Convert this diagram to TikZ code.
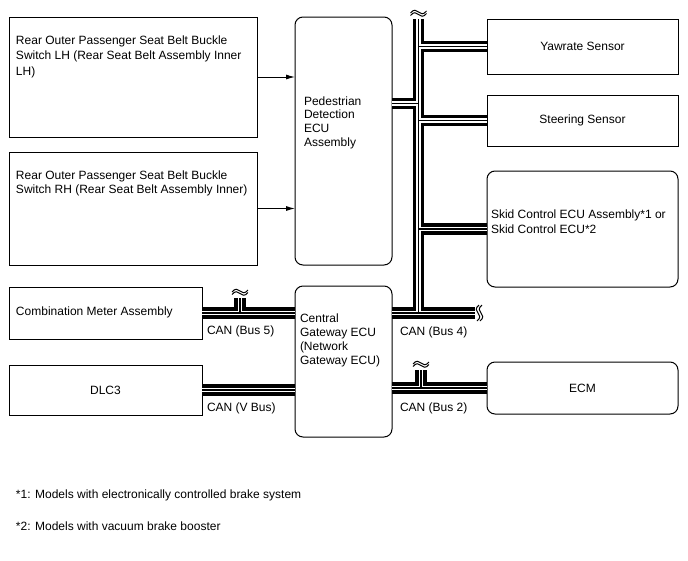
\documentclass[tikz,border=0pt]{standalone}
\usepackage{fontspec}
\setmainfont{Liberation Sans}
\usetikzlibrary{arrows.meta}

\tikzset{
  unit/.style={draw, line width=1pt, inner sep=0pt, outer sep=0pt, font=\fontsize{12}{14}\selectfont},
  ecu/.style={unit, rounded corners=8pt},
  txt/.style={inner sep=0pt, outer sep=0pt, anchor=north west, align=left, font=\fontsize{12}{14}\selectfont},
  lbl/.style={inner sep=0pt, outer sep=0pt, anchor=base west, font=\fontsize{12}{14}\selectfont},
  sig/.style={-{Latex[length=9pt,width=5pt]}, line width=1pt},
  brk/.style={line width=1pt},
  tildeh/.pic={
    \draw[brk] (-8,1) .. controls (-5,-3) and (-2,-2) .. (0,0) .. controls (2,2) and (5,3) .. (8,-1);
    \draw[brk] (-8,3.5) .. controls (-5,-0.5) and (-2,0.5) .. (0,2.5) .. controls (2,4.5) and (5,5.5) .. (8,1.5);
  },
  tildev/.pic={
    \draw[brk] (1,-8) .. controls (-3,-5) and (-2,-2) .. (0,0) .. controls (2,2) and (3,5) .. (-1,8);
    \draw[brk] (4,-8) .. controls (0,-5) and (1,-2) .. (3,0) .. controls (5,2) and (6,5) .. (2,8);
  }
}

% CAN bus segments, drawn in three passes
\newcommand{\canpath}{
  (trunktop) -- (trunkbot)
  (pedtap) -- (pedtap -| trunktop)
  (trunktop |- yaw.west) -- (yaw.west)
  (trunktop |- steer.west) -- (steer.west)
  (trunktop |- skid.west) -- (skid.west)
  (gw.east |- trunkbot) -- (b4end)
  (gw.east |- ecm.west) -- (ecm.west)
  (b2top) -- (b2top |- ecm.west)
  (meter.east) -- (meter.east -| gw.west)
  (b5top) -- (b5top |- meter.east)
  (dlc.east) -- (dlc.east -| gw.west)
}

\begin{document}
\begin{tikzpicture}[x=1pt, y=-1pt]
  \useasboundingbox[fill=white] (0,0) rectangle (688,560);

  % left side
  \node[unit, minimum width=248pt, minimum height=120pt] (lhsw) at (133,77) {};
  \node[unit, minimum width=248pt, minimum height=113pt] (rhsw) at (133,208.5) {};
  \node[unit, minimum width=193pt, minimum height=52pt] (meter) at (105.5,313) {};
  \node[unit, minimum width=193pt, minimum height=50pt] (dlc) at (105.5,390) {DLC3};

  % middle
  \node[ecu, minimum width=97pt, minimum height=248pt] (ped) at (343.5,141) {};
  \node[ecu, minimum width=97pt, minimum height=151pt] (gw) at (343.5,361.5) {};

  % right side
  \node[unit, minimum width=191pt, minimum height=55pt] (yaw) at (582.5,46.5) {Yawrate Sensor};
  \node[unit, minimum width=191pt, minimum height=51pt] (steer) at (582.5,120.5) {Steering Sensor};
  \node[ecu, minimum width=191pt, minimum height=116pt] (skid) at (582.5,229) {};
  \node[ecu, minimum width=191pt, minimum height=52pt] (ecm) at (582.5,388) {ECM};

  % texts
  \node[txt, font=\fontsize{12}{15.5}\selectfont] (lhtxt) at (16,35.5) {Rear Outer Passenger Seat Belt Buckle\\Switch LH (Rear Seat Belt Assembly Inner\\LH)};
  \node[txt] (rhtxt) at (16,170.5) {Rear Outer Passenger Seat Belt Buckle\\Switch RH (Rear Seat Belt Assembly Inner)};
  \node[txt, font=\fontsize{12}{13.8}\selectfont] (pedtxt) at (304,96.5) {Pedestrian\\Detection\\ECU\\Assembly};
  \node[txt] (gwtxt) at (300,313.5) {Central\\Gateway ECU\\(Network\\Gateway ECU)};
  \node[txt, font=\fontsize{12}{15}\selectfont] (skidtxt) at (491,209.5) {Skid Control ECU Assembly*1 or\\Skid Control ECU*2};
  \node[lbl] (metertxt) at (16,315.3) {Combination Meter Assembly};

  \node[lbl] (b5lbl) at (207,334.5) {CAN (Bus 5)};
  \node[lbl] (vlbl) at (207,411.3) {CAN (V Bus)};
  \node[lbl] (b4lbl) at (400,335) {CAN (Bus 4)};
  \node[lbl] (b2lbl) at (400,411.8) {CAN (Bus 2)};

  \node[lbl] (note1) at (16,498.3) {*1: Models with electronically controlled brake system};
  \node[lbl] (note2) at (16,530.3) {*2: Models with vacuum brake booster};

  % switch signals
  \draw[sig] (lhsw.east) -- (lhsw.east -| ped.west);
  \draw[sig] (rhsw.east) -- (rhsw.east -| ped.west);

  % bus points
  \coordinate (trunktop) at (418.5,19);
  \coordinate (trunkbot) at (418.5,313);
  \coordinate (pedtap) at (ped.east |- 0,103.5);
  \coordinate (b4end) at (475,313);
  \coordinate (b2top) at (421,370);
  \coordinate (b5top) at (240,298);

  \foreach \w/\c in {11.5/black,4.8/white,1.2/black}
    \draw[line width=\w, \c] \canpath;

  % breaks
  \pic at (418.5,12) {tildeh};
  \pic at (421,363) {tildeh};
  \pic at (240,291) {tildeh};
  \pic at (478,313) {tildev};
\end{tikzpicture}
\end{document}
